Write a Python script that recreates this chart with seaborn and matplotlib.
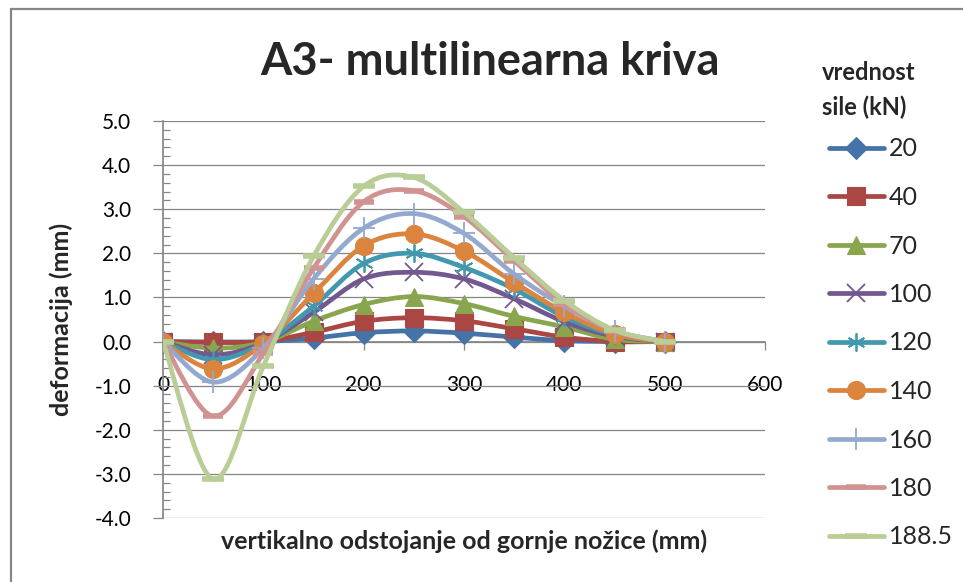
import matplotlib
matplotlib.use("Agg")
import matplotlib.pyplot as plt
import seaborn as sns
import pandas as pd
from matplotlib.path import Path
from matplotlib.patches import PathPatch, Rectangle
from matplotlib.lines import Line2D
from matplotlib.ticker import MultipleLocator, FormatStrFormatter

# vertikalno odstojanje (mm)
x_mm = [0, 50, 100, 150, 200, 250, 300, 350, 400, 450, 500]

# deformacija (mm) za pojedine sile (kN)
f20 = [0, -0.01, 0.0, 0.08, 0.20, 0.24, 0.19, 0.10, 0.02, 0.0, 0]
f40 = [0, -0.02, 0.0, 0.21, 0.46, 0.54, 0.47, 0.29, 0.10, 0.0, 0]
f70 = [0, -0.15, -0.02, 0.46, 0.84, 1.02, 0.86, 0.57, 0.33, 0.05, 0]
f100 = [0, -0.30, -0.03, 0.66, 1.42, 1.57, 1.42, 0.97, 0.45, 0.12, 0]
f120 = [0, -0.41, -0.04, 0.80, 1.77, 2.00, 1.68, 1.19, 0.56, 0.15, 0]
f140 = [0, -0.62, -0.05, 1.09, 2.17, 2.44, 2.05, 1.34, 0.66, 0.17, 0]
f160 = [0, -0.92, -0.15, 1.42, 2.57, 2.90, 2.45, 1.53, 0.80, 0.24, 0]
f180 = [0, -1.69, -0.27, 1.66, 3.17, 3.42, 2.83, 1.83, 0.85, 0.24, 0]
f188 = [0, -3.12, -0.56, 1.93, 3.52, 3.72, 2.93, 1.90, 0.93, 0.26, 0]

labels = ["20", "40", "70", "100", "120", "140", "160", "180", "188.5"]
series = [f20, f40, f70, f100, f120, f140, f160, f180, f188]
colors = ["#4572A7", "#AA4643", "#89A54E", "#71588F", "#4198AF",
          "#DB843D", "#93A9CF", "#D19392", "#B9CD96"]
markers = ["D", "s", "^", "x", (6, 2, 0), "o", "+", "_", "_"]
msizes = [11, 13, 13, 13, 13, 13, 16, 14, 16]

sns.set_theme(style="white")
plt.rcParams["font.family"] = ["Lato", "DejaVu Sans"]
plt.rcParams["axes.unicode_minus"] = False

fig = plt.figure(figsize=(9.63, 5.82), dpi=100)
ax = fig.add_axes([163 / 963, 1 - 518 / 582, 602 / 963, 397 / 582])


def smooth_path(xs, ys):
    # Excel-style smoothed line: cubic Bezier segments through the data points
    pts = list(zip(xs, ys))
    n = len(pts)
    verts = [pts[0]]
    codes = [Path.MOVETO]
    for i in range(n - 1):
        p0 = pts[i - 1] if i > 0 else pts[i]
        p1 = pts[i]
        p2 = pts[i + 1]
        p3 = pts[i + 2] if i + 2 < n else pts[i + 1]
        c1 = (p1[0] + (p2[0] - p0[0]) / 6, p1[1] + (p2[1] - p0[1]) / 6)
        c2 = (p2[0] - (p3[0] - p1[0]) / 6, p2[1] - (p3[1] - p1[1]) / 6)
        verts += [c1, c2, p2]
        codes += [Path.CURVE4] * 3
    return Path(verts, codes)


handles = []
for i, (lab, ys, c, m, ms) in enumerate(zip(labels, series, colors, markers, msizes)):
    ax.add_patch(PathPatch(smooth_path(x_mm, ys), fill=False, edgecolor=c,
                           lw=3.4, capstyle="round", joinstyle="round", zorder=3 + 2 * i))
    df = pd.DataFrame({"x": x_mm, "y": ys})
    thin = m in ("x", "+", "_") or isinstance(m, tuple)
    mew = (4 if m == "_" else 1.3) if thin else 0.8
    sns.lineplot(data=df, x="x", y="y", ax=ax, color=c, marker=m, markersize=ms,
                 linestyle="none", markeredgecolor=c, markeredgewidth=mew,
                 zorder=4 + 2 * i, legend=False)
    handles.append(Line2D([], [], color=c, lw=3.4, marker=m, markersize=ms,
                          markeredgecolor=c, solid_capstyle="round",
                          markeredgewidth=mew))

ax.set_xlim(0, 600)
ax.set_ylim(-4, 5)
ax.xaxis.set_major_locator(MultipleLocator(100))
ax.yaxis.set_major_locator(MultipleLocator(1))
ax.yaxis.set_minor_locator(MultipleLocator(0.2))
ax.yaxis.set_major_formatter(FormatStrFormatter("%.1f"))

grey = "#868686"
ax.grid(axis="y", which="major", color=grey, lw=0.9)
ax.set_axisbelow(True)
for s in ["top", "right"]:
    ax.spines[s].set_visible(False)
ax.spines["bottom"].set_position(("data", 0))
ax.spines["bottom"].set_color(grey)
ax.spines["left"].set_color(grey)
ax.spines["bottom"].set_zorder(2)

ax.tick_params(axis="y", which="major", direction="out", length=7, width=0.9,
               color=grey, pad=16, labelsize=15, labelcolor="black", left=True)
ax.tick_params(axis="y", which="minor", direction="in", length=5, width=0.9,
               color=grey, left=True)
ax.tick_params(axis="x", which="major", direction="out", length=6, width=0.9,
               color=grey, pad=18, labelsize=15, labelcolor="black", bottom=True)

ax.set_xlabel("vertikalno odstojanje od gornje nožice (mm)", fontsize=18,
              fontweight="bold")
ax.xaxis.set_label_coords(0.5, -0.03)
ax.set_ylabel("deformacija (mm)", fontsize=18, fontweight="bold")
ax.yaxis.set_label_coords(-0.15, 0.5)

fig.text(490 / 963, 1 - 62 / 582, "A3- multilinearna kriva", fontsize=32.5,
         fontweight="bold", ha="center", va="center")

# legend title as separate text, entries below it
fig.text(822 / 963, 1 - 90 / 582, "vrednost\nsile (kN)", fontsize=17,
         fontweight="bold", ha="left", va="center", linespacing=1.55)
leg = fig.legend(handles, labels, loc="upper left",
                 bbox_to_anchor=(816 / 963, 1 - 125 / 582), frameon=False,
                 borderpad=0, fontsize=18, handlelength=2.2, handletextpad=0.2,
                 labelspacing=1.02)

# outer chart border (cropped on the right and bottom)
fig.patches.append(Rectangle((11 / 963, -0.2), 2, 1.2 - 9 / 582, transform=fig.transFigure,
                             fill=False, edgecolor=grey, lw=1.6))

fig.savefig("out.png", dpi=100)
plt.close(fig)
